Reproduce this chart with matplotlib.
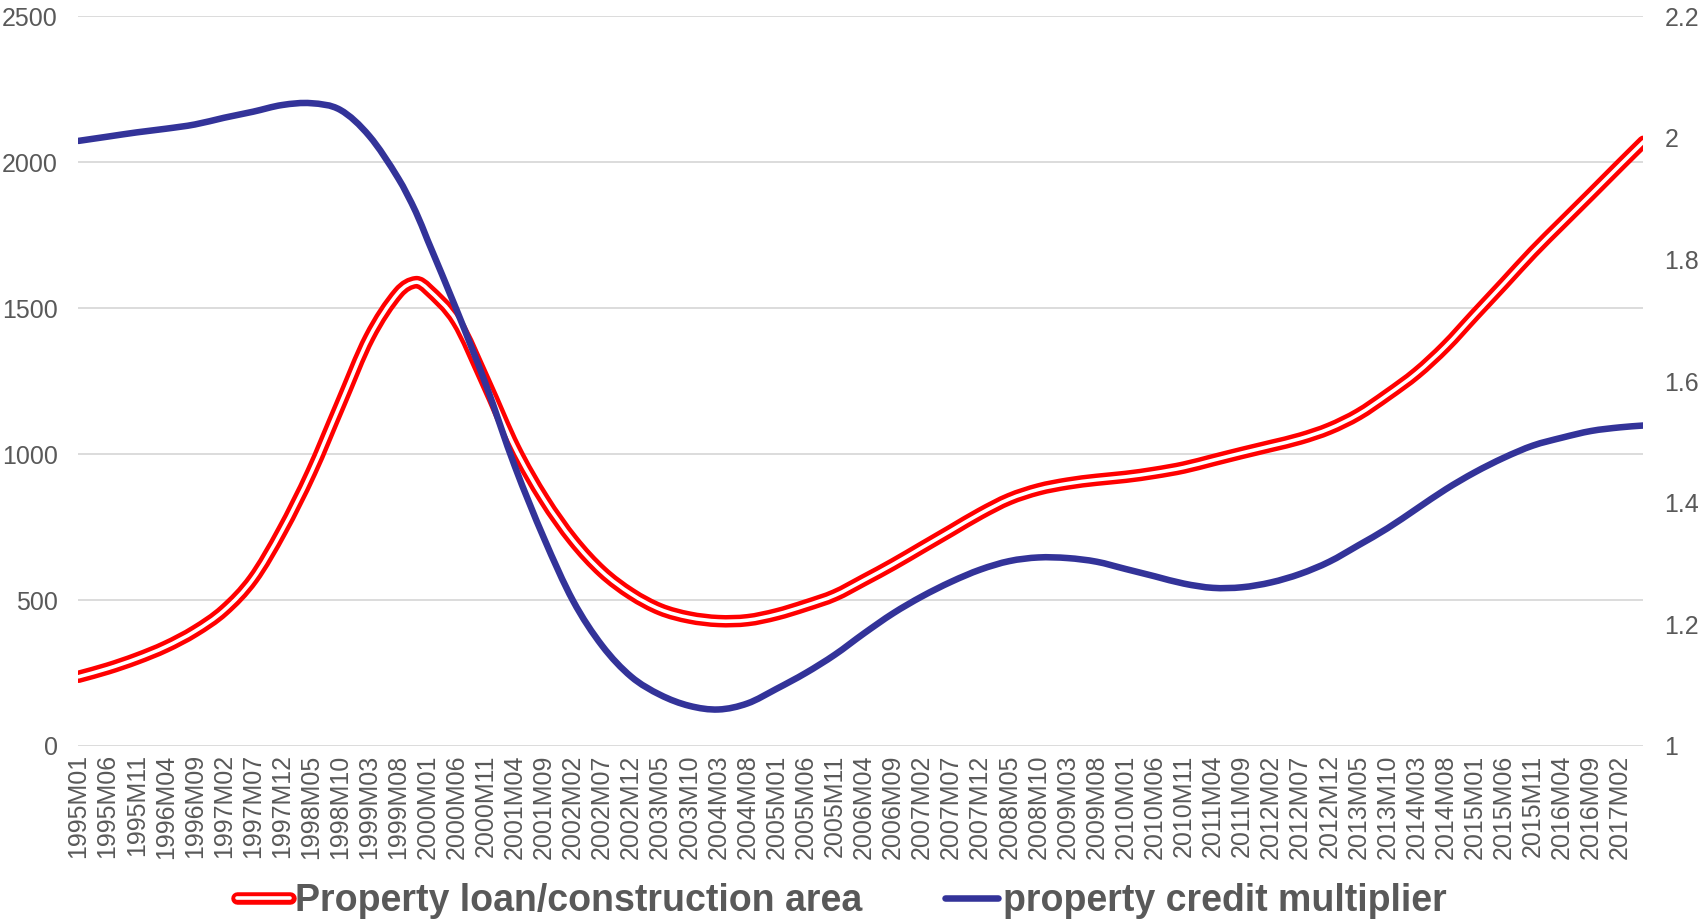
import matplotlib
matplotlib.use("Agg")
import matplotlib.pyplot as plt
import matplotlib.patheffects as pe
from matplotlib.lines import Line2D
from matplotlib.path import Path
from matplotlib.patches import PathPatch

# monthly categories 1995M01 .. 2017M06
months = [f"{y}M{m:02d}" for y in range(1995, 2018) for m in range(1, 13)][:270]

sample_months = ["1995M01", "1995M06", "1995M11", "1996M04", "1996M09", "1997M02",
                 "1997M07", "1997M12", "1998M05", "1998M10", "1999M03", "1999M08",
                 "1999M11", "2000M01", "2000M06", "2000M11", "2001M04", "2001M09",
                 "2002M02", "2002M07", "2002M12", "2003M05", "2003M10", "2004M03",
                 "2004M08", "2005M01", "2005M06", "2005M11", "2006M04", "2006M09",
                 "2007M02", "2007M07", "2007M12", "2008M05", "2008M10", "2009M03",
                 "2009M08", "2010M01", "2010M06", "2010M11", "2011M04", "2011M09",
                 "2012M02", "2012M07", "2012M12", "2013M05", "2013M10", "2014M03",
                 "2014M08", "2015M01", "2015M06", "2015M11", "2016M04", "2016M09",
                 "2017M02", "2017M06"]

loan_per_area = [237, 265, 299, 340, 393, 464,
                 572, 738, 937, 1170, 1400, 1553,
                 1589, 1566, 1455, 1245, 1022, 846,
                 705, 597, 521, 468, 440, 428,
                 431, 451, 481, 516, 568, 622,
                 680, 738, 796, 846, 879, 899,
                 912, 922, 936, 954, 979, 1004,
                 1028, 1053, 1087, 1136, 1203, 1277,
                 1369, 1477, 1584, 1692, 1792, 1891,
                 1991, 2070]

credit_multiplier = [1.995, 2.002, 2.009, 2.015, 2.022, 2.033,
                     2.043, 2.054, 2.057, 2.046, 2.003, 1.933,
                     1.878, 1.832, 1.717, 1.595, 1.460, 1.342,
                     1.239, 1.165, 1.114, 1.084, 1.066, 1.060,
                     1.070, 1.094, 1.120, 1.150, 1.185, 1.218,
                     1.246, 1.270, 1.290, 1.304, 1.310, 1.309,
                     1.303, 1.291, 1.279, 1.267, 1.260, 1.261,
                     1.269, 1.283, 1.303, 1.330, 1.358, 1.390,
                     1.422, 1.450, 1.474, 1.494, 1.507, 1.518,
                     1.524, 1.527]

label_red = "Property loan/construction area"
label_blue = "property credit multiplier"

RED = "#FF0000"
BLUE = "#333399"
GRAY = "#595959"
GRID = "#D9D9D9"

plt.rcParams["font.family"] = ["Liberation Sans", "DejaVu Sans"]


def smooth_path(xs, ys):
    # smoothed line like Excel: cubic Bezier segments through the points,
    # slopes from neighbours (works with uneven spacing)
    n = len(xs)
    slopes = []
    for k in range(n):
        a, b = max(k - 1, 0), min(k + 1, n - 1)
        slopes.append((ys[b] - ys[a]) / (xs[b] - xs[a]))
    verts = [(xs[0], ys[0])]
    codes = [Path.MOVETO]
    for k in range(n - 1):
        h = (xs[k + 1] - xs[k]) / 3
        verts += [(xs[k] + h, ys[k] + slopes[k] * h),
                  (xs[k + 1] - h, ys[k + 1] - slopes[k + 1] * h),
                  (xs[k + 1], ys[k + 1])]
        codes += [Path.CURVE4] * 3
    return Path(verts, codes)


x = [months.index(m) for m in sample_months]

fig = plt.figure(figsize=(16.98, 9.23), dpi=100)
ax = fig.add_axes([0.0462, 0.1918, 0.9217, 0.7906])
ax2 = ax.twinx()

red_fx = [pe.Stroke(linewidth=9.0, foreground=RED), pe.Normal()]
ax.add_patch(PathPatch(smooth_path(x, loan_per_area), facecolor="none",
                       edgecolor="white", lw=2.6, capstyle="round",
                       joinstyle="round", path_effects=red_fx, zorder=3))
ax2.add_patch(PathPatch(smooth_path(x, credit_multiplier), facecolor="none",
                        edgecolor=BLUE, lw=4.7, capstyle="round",
                        joinstyle="round", zorder=3))

ax.set_xlim(0, len(months) - 1)
ax.set_ylim(0, 2500)
ax.set_yticks(range(0, 2501, 500))
ax2.set_ylim(1, 2.2)
r_ticks = [1, 1.2, 1.4, 1.6, 1.8, 2, 2.2]
ax2.set_yticks(r_ticks)
ax2.set_yticklabels([f"{t:g}" for t in r_ticks])

tick_idx = list(range(0, len(months), 5))
ax.set_xticks(tick_idx)
ax.set_xticklabels([months[i] for i in tick_idx], rotation=90)

ax.grid(axis="y", color=GRID, lw=1.3)
ax.set_axisbelow(True)
for a in (ax, ax2):
    for s in a.spines.values():
        s.set_visible(False)
ax.tick_params(axis="x", length=0, pad=6, labelsize=18, labelcolor=GRAY)
ax.tick_params(axis="y", length=0, pad=15, labelsize=18, labelcolor=GRAY)
ax2.tick_params(axis="y", length=0, pad=15, labelsize=18, labelcolor=GRAY)

h_red = Line2D([], [], color="white", lw=2.6, solid_capstyle="round",
               path_effects=red_fx)
h_blue = Line2D([], [], color=BLUE, lw=4.7, solid_capstyle="round")
fig.legend([h_red, h_blue], [label_red, label_blue], loc="center",
           bbox_to_anchor=(0.496, 0.024), ncol=2, frameon=False,
           handlelength=1.4, handletextpad=0.15, columnspacing=2.2,
           labelcolor=GRAY, prop=dict(family="Liberation Sans", weight="bold", size=27))

fig.savefig("out.png", dpi=100)
